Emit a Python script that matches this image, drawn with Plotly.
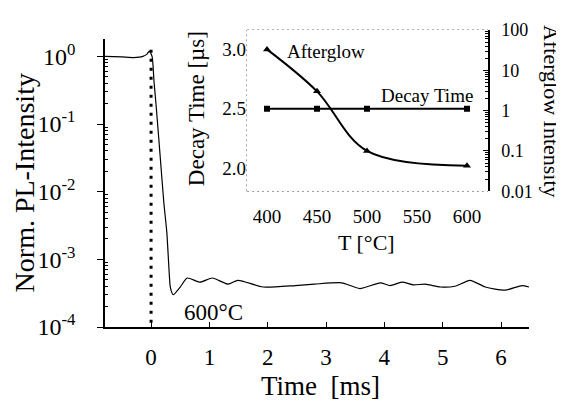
import plotly.graph_objects as go

# ---------------- data ----------------
time_ms = [-0.79, -0.5, -0.3, -0.14, -0.07, -0.03, 0.017, 0.05, 0.086, 0.154, 0.22, 0.27, 0.31, 0.33, 0.38,
           0.5, 0.62, 0.84, 1.05, 1.32, 1.49, 1.92, 2.47, 2.8, 3.27, 3.58, 3.93, 4.1, 4.3, 4.5, 4.7,
           4.96, 5.21, 5.47, 5.73, 6.07, 6.36, 6.48]
pl_intensity = [1.0, 0.98, 0.96, 1.0, 1.08, 1.2, 1.0, 0.43, 0.19, 0.035, 0.0067, 0.0025, 6.5e-4, 3.9e-4, 3.0e-4,
                3.9e-4, 5.3e-4, 4.6e-4, 5.3e-4, 4.3e-4, 4.9e-4, 3.9e-4, 4.1e-4, 4.3e-4, 4.5e-4, 3.7e-4, 4.5e-4, 4.1e-4,
                4.6e-4, 4.2e-4, 4.3e-4, 3.9e-4, 4.0e-4, 4.9e-4, 3.9e-4, 3.5e-4, 4.1e-4, 3.9e-4]

marker_x = [0, 0]
marker_y = [1.25, 1e-4]

temp_c = [400, 450, 500, 600]
decay_time_us = [2.5, 2.5, 2.5, 2.5]
afterglow = [33, 3.0, 0.10, 0.043]

main_tickvals = [1, 0.1, 0.01, 0.001, 0.0001]
main_ticktext = ["10<sup>0</sup>", "10<sup>-1</sup>", "10<sup>-2</sup>", "10<sup>-3</sup>", "10<sup>-4</sup>"]
inset_right_vals = [0.01, 0.1, 1, 10, 100]
inset_right_text = ["0.01", "0.1", "1", "10", "100"]

main_minor = [m * 10.0 ** e for e in range(-4, 1) for m in range(2, 10)]
inset_minor = [m * 10.0 ** e for e in range(-2, 2) for m in range(2, 10)]

FONT = "Liberation Serif"

fig = go.Figure()

fig.add_trace(go.Scatter(x=time_ms, y=pl_intensity, mode="lines",
                         line=dict(color="black", width=1.2, shape="spline", smoothing=0.6),
                         xaxis="x", yaxis="y", showlegend=False))
fig.add_trace(go.Scatter(x=marker_x, y=marker_y, mode="lines",
                         line=dict(color="black", width=3, dash="3px,6px"),
                         xaxis="x", yaxis="y", showlegend=False))

fig.add_trace(go.Scatter(x=temp_c, y=decay_time_us, mode="lines+markers",
                         line=dict(color="black", width=2),
                         marker=dict(symbol="square", size=6, color="black"),
                         xaxis="x2", yaxis="y2", showlegend=False))
fig.add_trace(go.Scatter(x=temp_c, y=afterglow, mode="lines+markers",
                         line=dict(color="black", width=2, shape="spline", smoothing=1.0),
                         marker=dict(symbol="triangle-up", size=7, color="black"),
                         xaxis="x2", yaxis="y3", showlegend=False))

# screen pixel -> paper helpers (plot area on screen: x 105..529, y 23..327)
def px(xp):
    return (xp - 105) / 424.0

def py(yp):
    return (327 - yp) / 304.0

# page body has an 8px margin: figure is drawn offset by 8px
fig.update_layout(
    width=556, height=401,
    margin=dict(l=97, r=35, t=15, b=82),
    paper_bgcolor="white", plot_bgcolor="white",
    font=dict(family=FONT, color="black"),
    xaxis=dict(domain=[0, 1], range=[-0.79, 6.48], tickvals=[0, 1, 2, 3, 4, 5, 6],
               ticks="inside", ticklen=5, tickcolor="black", showline=True, linecolor="black",
               linewidth=1.5, showgrid=False, zeroline=False, anchor="y",
               tickfont=dict(size=23, family=FONT), ticklabelstandoff=9),
    yaxis=dict(domain=[0, py(32)], type="log", range=[-4, 0.26], tickvals=main_tickvals,
               ticktext=main_ticktext, ticks="outside", ticklen=6, tickcolor="black",
               showline=True, linecolor="black", linewidth=1.5, showgrid=False, zeroline=False,
               anchor="x", tickfont=dict(size=24, family=FONT), ticklabelstandoff=17,
               minor=dict(tickvals=main_minor, ticks="inside", ticklen=3, tickcolor="black",
                          showgrid=False)),
    xaxis2=dict(domain=[px(247), px(488)], range=[380, 621], tickvals=[400, 450, 500, 550, 600],
                ticks="", showline=False, showgrid=False, zeroline=False, anchor="y2",
                tickfont=dict(size=19, family=FONT), ticklabelstandoff=12),
    yaxis2=dict(domain=[py(188), 1], range=[1.81, 3.16], tickvals=[2.0, 2.5, 3.0],
                ticktext=["2.0", "2.5", "3.0"], ticks="", showline=False, showgrid=False,
                zeroline=False, anchor="x2", tickfont=dict(size=19, family=FONT), ticklabelstandoff=0),
    yaxis3=dict(domain=[py(188), 1], type="log", range=[-2, 2], overlaying="y2", side="right",
                anchor="x2", tickvals=inset_right_vals, ticktext=inset_right_text,
                ticks="inside", ticklen=5, tickcolor="black", showline=True, linecolor="black",
                linewidth=1.5, showgrid=False, zeroline=False,
                tickfont=dict(size=18, family=FONT), ticklabelstandoff=8,
                minor=dict(tickvals=inset_minor, ticks="inside", ticklen=3, tickcolor="black",
                           showgrid=False)),
)

# inset frame (dotted grey on left, top, bottom)
for (x0, y0, x1, y1) in [(0, 0, 0, 1), (0, 1, 1, 1), (0, 0, 1, 0)]:
    fig.add_shape(type="line", xref="x2 domain", yref="y2 domain", x0=x0, y0=y0, x1=x1, y1=y1,
                  line=dict(color="#666666", width=1.2, dash="2px,3px"), layer="below")

ann = [
    ("Time\u00a0 [ms]", 320, 387, 27, 0),
    ("Norm. PL-Intensity", 24, 180, 28, -90),
    ("600°C", 213, 312, 23, 0),
    ("T [°C]", 366, 240, 22, 0),
    ("Decay Time [µs]", 196, 104, 23, -90),
    ("Afterglow Intensity", 552, 106, 22, 90),
    ("Afterglow", 326, 45, 19, 0),
    ("Decay Time", 427, 90, 19, 0),
]
for text, xp, yp, size, ang in ann:
    fig.add_annotation(text=text, x=px(xp), y=py(yp), xref="paper", yref="paper",
                       showarrow=False, textangle=ang, xanchor="center", yanchor="middle",
                       font=dict(size=size, family=FONT, color="black"))

fig.write_html("out.html")
